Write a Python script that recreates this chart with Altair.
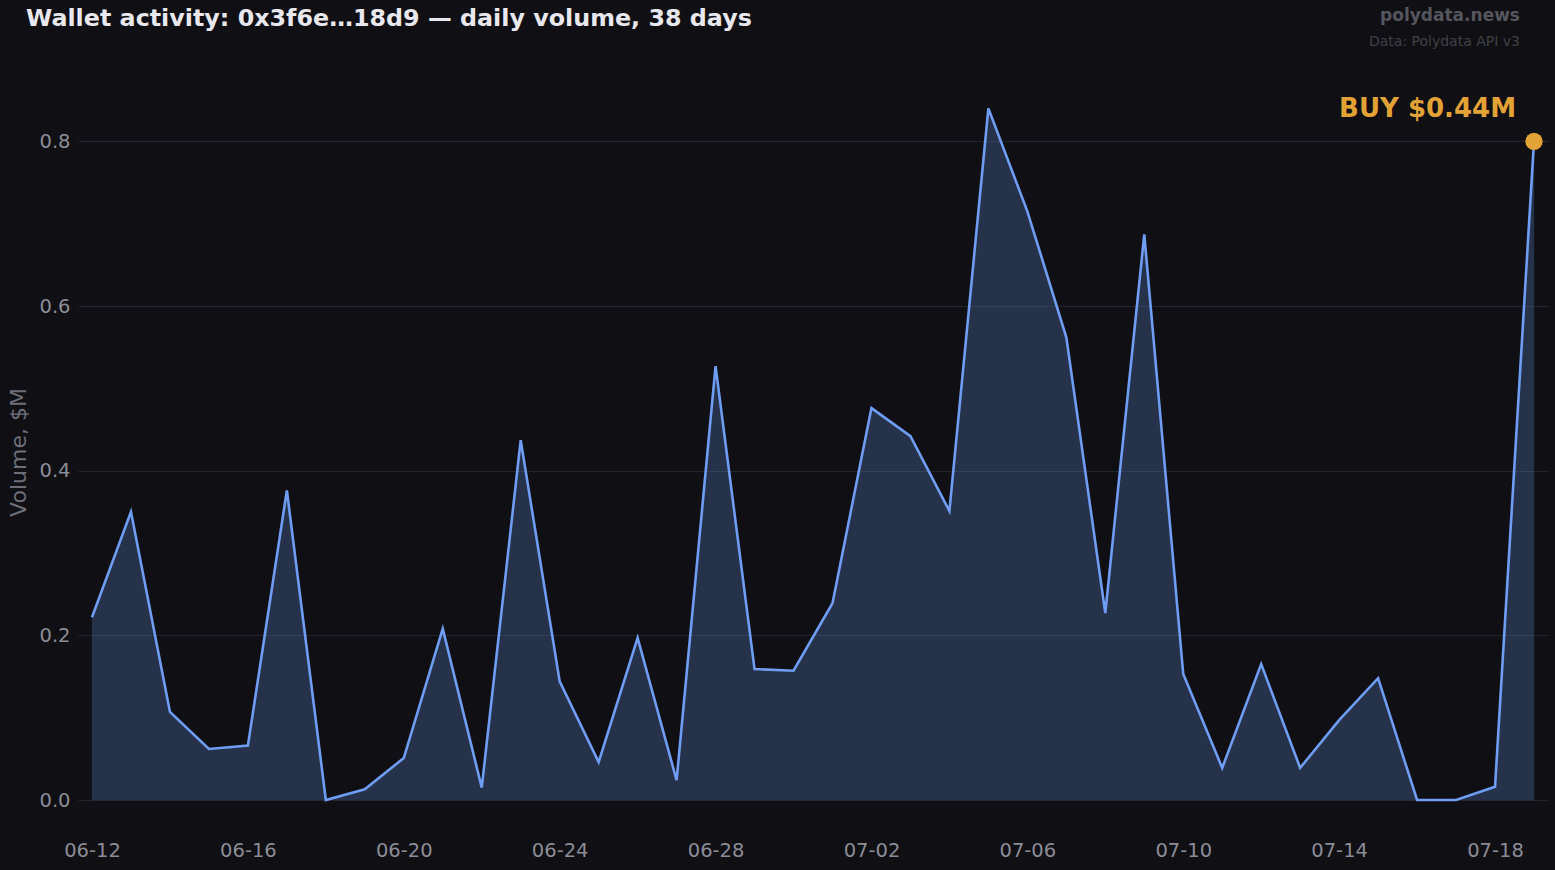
import altair as alt
import pandas as pd

# ---- data ----
dates = ["06-12", "06-13", "06-14", "06-15", "06-16", "06-17", "06-18", "06-19", "06-20", "06-21",
         "06-22", "06-23", "06-24", "06-25", "06-26", "06-27", "06-28", "06-29", "06-30", "07-01",
         "07-02", "07-03", "07-04", "07-05", "07-06", "07-07", "07-08", "07-09", "07-10", "07-11",
         "07-12", "07-13", "07-14", "07-15", "07-16", "07-17", "07-18", "07-19"]
volume = [0.222, 0.350, 0.107, 0.062, 0.066, 0.376, 0.000, 0.013, 0.051, 0.208,
          0.015, 0.437, 0.144, 0.046, 0.197, 0.024, 0.527, 0.159, 0.157, 0.239,
          0.476, 0.442, 0.351, 0.840, 0.715, 0.562, 0.227, 0.687, 0.153, 0.039,
          0.165, 0.039, 0.097, 0.148, 0.000, 0.000, 0.016, 0.800]
tick_labels = ["06-12", "06-16", "06-20", "06-24", "06-28", "07-02", "07-06", "07-10", "07-14", "07-18"]
y_ticks = [0.0, 0.2, 0.4, 0.6, 0.8]
highlight_label = "BUY $0.44M"
title_text = "Wallet activity: 0x3f6e…18d9 — daily volume, 38 days"
brand_text = "polydata.news"
source_text = "Data: Polydata API v3"

df = pd.DataFrame({"day": list(range(len(dates))), "date": dates, "volume": volume})
last = df.tail(1).assign(label=highlight_label)

tick_idx = [dates.index(t) for t in tick_labels]
label_expr = "[" + ",".join(f"'{d}'" for d in dates) + "][datum.value]"

BG = "#0f0f14"
LINE = "#6f9df3"
ORANGE = "#e2a235"
FONT = "DejaVu Sans"

W, H = 1470, 741

x = alt.X("day:Q",
          scale=alt.Scale(domain=[0, len(dates) - 1], padding=14, nice=False, zero=False),
          axis=alt.Axis(values=tick_idx, labelExpr=label_expr, title=None, grid=False,
                        ticks=False, domain=False, labelPadding=41, labelFontSize=19.5,
                        labelColor="#8c8c96", labelFont=FONT))
y = alt.Y("volume:Q",
          scale=alt.Scale(domain=[0, 0.9], nice=False),
          axis=alt.Axis(values=y_ticks, format=".1f", title="Volume, $M", grid=True,
                        gridColor="#23232b", gridWidth=1, ticks=False, domain=False,
                        labelPadding=8, labelFontSize=19.5, labelColor="#8c8c96", labelFont=FONT,
                        titleFontSize=22, titleColor="#6e6e78", titleFont=FONT,
                        titleFontWeight="normal", titleX=-60, titleY=393,
                        titleAngle=-90, titleAlign="center", titleBaseline="middle"))

base = alt.Chart(df)

area = base.mark_area(color=LINE, opacity=0.24, stroke=LINE, strokeOpacity=0.35,
                      strokeWidth=1).encode(x=x, y=y)
line = base.mark_line(color=LINE, strokeWidth=2.6).encode(x=x, y=y)

pt = alt.Chart(last).mark_circle(color=ORANGE, size=300, opacity=1).encode(x=x, y=y)
lbl = alt.Chart(last).mark_text(color=ORANGE, font=FONT, fontSize=26, fontWeight="bold",
                                align="right", baseline="alphabetic", dx=-18, dy=-24).encode(
    x=x, y=y, text="label:N")

txt_df = pd.DataFrame({"t": [title_text]})
title = alt.Chart(txt_df).mark_text(font=FONT, fontSize=23.8, fontWeight="bold", color="#e8e8ee",
                                    align="left", baseline="alphabetic").encode(
    x=alt.value(-52), y=alt.value(-33), text="t:N")
brand = alt.Chart(pd.DataFrame({"t": [brand_text]})).mark_text(
    font=FONT, fontSize=17, fontWeight="bold", color="#55555d", align="right",
    baseline="alphabetic").encode(x=alt.value(1442), y=alt.value(-38), text="t:N")
source = alt.Chart(pd.DataFrame({"t": [source_text]})).mark_text(
    font=FONT, fontSize=14, color="#404048", align="right",
    baseline="alphabetic").encode(x=alt.value(1442), y=alt.value(-13), text="t:N")

chart = alt.layer(area, line, pt, lbl, title, brand, source).properties(
    width=W, height=H,
    autosize=alt.AutoSizeParams(type="none"),
    padding={"left": 78, "top": 59, "right": 7, "bottom": 70},
    background=BG,
).configure_view(stroke=None)

chart.save("out.html", embed_options={"renderer": "svg", "actions": False})
